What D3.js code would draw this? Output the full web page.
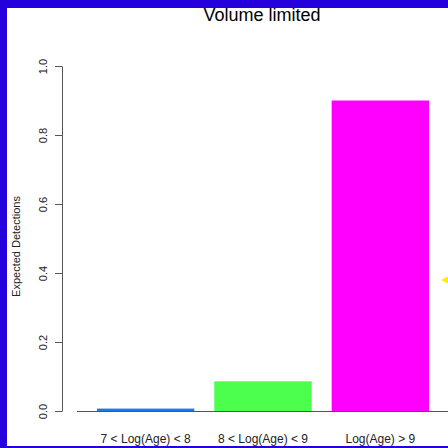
<!DOCTYPE html>
<html>
<head>
<meta charset="utf-8">
<script src="https://cdn.jsdelivr.net/npm/d3@7"></script>
<style>
  html, body { margin: 0; padding: 0; background: #fff; }
  svg { display: block; font-family: "Liberation Sans", Arial, sans-serif; }
</style>
</head>
<body>
<svg id="chart" width="448" height="448"></svg>
<script>
// Age bins and expected detections per bin
const categories = ["7 < Log(Age) < 8", "8 < Log(Age) < 9", "Log(Age) > 9"];
const detections = [0.007, 0.086, 0.9];
const barColors = ["#1a78f0", "#4dff4d", "#ff00ff"];
const yTicks = [0, 0.2, 0.4, 0.6, 0.8, 1.0];
const title = "Volume limited";
const yLabel = "Expected Detections";
const markerValue = 0.38;

const svg = d3.select("#chart");
const W = 448, H = 448;

const x = d3.scaleBand()
  .domain(categories)
  .range([77, 449])
  .paddingInner(0.17)
  .paddingOuter(0.17);

const y = d3.scaleLinear().domain([0, 1]).range([411, 66]);

// bars
svg.append("g").selectAll("rect")
  .data(categories)
  .join("rect")
  .attr("x", d => x(d))
  .attr("width", x.bandwidth())
  .attr("y", (d, i) => y(detections[i]))
  .attr("height", (d, i) => y(0) - y(detections[i]))
  .attr("fill", (d, i) => barColors[i]);

// baseline
svg.append("line")
  .attr("x1", 77).attr("x2", W)
  .attr("y1", y(0) + 0.5).attr("y2", y(0) + 0.5)
  .attr("stroke", "#555").attr("stroke-width", 1);

// y axis
const yAxis = d3.axisLeft(y)
  .tickValues(yTicks)
  .tickFormat(d3.format(".1f"))
  .tickSize(7)
  .tickSizeOuter(0);
const ga = svg.append("g")
  .attr("transform", "translate(62,0)")
  .call(yAxis);
ga.select(".domain").attr("stroke", "#555");
ga.selectAll(".tick line").attr("stroke", "#555");
ga.selectAll(".tick text")
  .attr("fill", "#222")
  .attr("font-size", 11)
  .attr("font-family", "Liberation Sans, Arial, sans-serif")
  .attr("text-anchor", "middle")
  .attr("dy", null)
  .attr("x", null)
  .attr("transform", "translate(-15,0) rotate(-90)");

// x category labels
svg.append("g").selectAll("text")
  .data(categories)
  .join("text")
  .attr("x", d => x(d) + x.bandwidth() / 2)
  .attr("y", 443)
  .attr("text-anchor", "middle")
  .attr("font-size", 12)
  .attr("fill", "#222")
  .text(d => d);

// y label
svg.append("text")
  .attr("transform", `translate(20,${(y(0) + y(1)) / 2 + 8}) rotate(-90)`)
  .attr("text-anchor", "middle")
  .attr("font-size", 11)
  .attr("fill", "#222")
  .text(yLabel);

// title
svg.append("text")
  .attr("x", 262).attr("y", 21)
  .attr("text-anchor", "middle")
  .attr("font-size", 18)
  .attr("fill", "#000")
  .text(title);

// small yellow marker at the right edge
const my = y(markerValue);
svg.append("path")
  .attr("d", `M441,${my} L449,${my - 4} L449,${my + 4} Z`)
  .attr("fill", "#ffee00");

// frame
const frame = "#2300dc";
svg.append("rect").attr("x", 0).attr("y", 0).attr("width", W).attr("height", 8).attr("fill", frame);
svg.append("rect").attr("x", 0).attr("y", 0).attr("width", 7).attr("height", H).attr("fill", frame);
svg.append("rect").attr("x", 0).attr("y", 446).attr("width", W).attr("height", 2).attr("fill", frame);
</script>
</body>
</html>
